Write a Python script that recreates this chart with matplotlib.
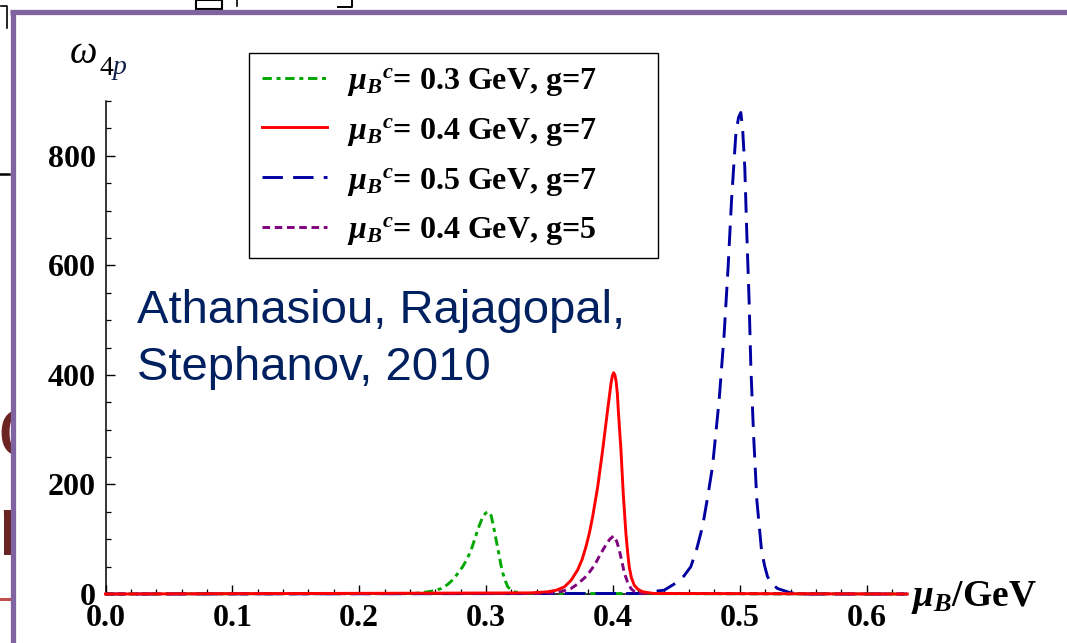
import matplotlib
matplotlib.use("Agg")
import matplotlib.pyplot as plt
from matplotlib.lines import Line2D
from matplotlib.patches import Rectangle
from matplotlib.transforms import Bbox, TransformedBbox
from matplotlib.ticker import MultipleLocator, FormatStrFormatter

# ---------------- data ----------------
green_x = [0.0, 0.2436, 0.254, 0.259, 0.2646, 0.2695, 0.2738, 0.2775, 0.2816,
           0.285, 0.2882, 0.2934, 0.2955, 0.2974, 0.2998, 0.3021, 0.3040, 0.3053,
           0.3066, 0.3079, 0.3105, 0.3118, 0.3132, 0.3150, 0.3171, 0.3195, 0.3223,
           0.330, 0.632]
green_y = [0, 1, 4, 6, 10, 17, 26, 37, 50, 64, 80, 117, 130, 141, 148, 150, 143,
           129, 115, 99, 68, 52, 38, 25, 13, 8, 4, 1, 0]

red_x = [0.0, 0.335, 0.3486, 0.3555, 0.3617, 0.367, 0.3722, 0.3757, 0.3787,
         0.3815, 0.384, 0.388, 0.3919, 0.3958, 0.3985, 0.3995, 0.4005, 0.4015,
         0.4025, 0.4035, 0.4042, 0.4063, 0.4081, 0.4102, 0.4115, 0.4128, 0.4145,
         0.4168, 0.4195, 0.4234, 0.432, 0.632]
red_y = [0, 2, 4, 7, 13, 25, 44, 63, 86, 112, 141, 196, 263, 336, 385, 398, 404,
         400, 388, 365, 336, 263, 184, 111, 78, 50, 30, 16, 9, 4, 1, 0]

blue_x = [0.0, 0.42, 0.43, 0.4404, 0.451, 0.456, 0.4614, 0.466, 0.4706, 0.4745,
          0.4785, 0.4837, 0.4877, 0.4908, 0.4935, 0.4969, 0.4990, 0.5008, 0.5022,
          0.5039, 0.5055, 0.5073, 0.5087, 0.5108, 0.5134, 0.5171, 0.5195, 0.5218,
          0.525, 0.5297, 0.5402, 0.55, 0.632]
blue_y = [0, 1, 4, 7, 22, 33, 50, 82, 123, 175, 233, 354, 476, 598, 720, 841,
          870, 879, 850, 780, 659, 537, 415, 293, 172, 80, 52, 32, 19, 10, 2, 0, 0]

purple_x = [0.0, 0.345, 0.3564, 0.3615, 0.3669, 0.372, 0.3774, 0.3815, 0.3856,
            0.3895, 0.3935, 0.3975, 0.4005, 0.4030, 0.405, 0.407, 0.409, 0.4115,
            0.4142, 0.417, 0.4195, 0.632]
purple_y = [0, 1, 3, 6, 10, 18, 29, 40, 53, 70, 86, 100, 106, 96, 80, 60, 38,
            22, 10, 4, 1, 0]

labels = [r"$\mu_B{}^c$= 0.3 GeV, g=7",
          r"$\mu_B{}^c$= 0.4 GeV, g=7",
          r"$\mu_B{}^c$= 0.5 GeV, g=7",
          r"$\mu_B{}^c$= 0.4 GeV, g=5"]
xticks = [0.0, 0.1, 0.2, 0.3, 0.4, 0.5, 0.6]
yticks = [0, 200, 400, 600, 800]

# ---------------- style ----------------
plt.rcParams["mathtext.fontset"] = "custom"
plt.rcParams["mathtext.it"] = "Liberation Serif:italic:bold"
plt.rcParams["mathtext.rm"] = "Liberation Serif:bold"
plt.rcParams["mathtext.bf"] = "Liberation Serif:bold"
plt.rcParams["font.family"] = ["Liberation Serif", "DejaVu Serif"]

W, H = 1067, 643
fig = plt.figure(figsize=(W / 100, H / 100), dpi=100)
fig.patch.set_facecolor("white")

def fx(px):
    return px / W

def fy(py):
    return 1 - py / H

# slide fragments outside the panel (clipped at the frame)
clip = TransformedBbox(Bbox([[0, 0], [fx(11), 1]]), fig.transFigure)
for txt, base in (("c", 455), ("n", 555)):
    t = fig.text(fx(-3), fy(base), txt, fontsize=62, color="#6B2323",
                 family="Liberation Sans", ha="left", va="baseline", zorder=-5)
    t.set_clip_box(clip)
    t.set_clip_on(True)
fig.add_artist(Line2D([fx(0), fx(10)], [fy(599), fy(599)], color="#C0504D",
                      lw=2.2, zorder=-5))
fig.add_artist(Line2D([fx(0), fx(9)], [fy(174), fy(174)], color="black",
                      lw=1.8, zorder=-5))
fig.add_artist(Rectangle((fx(196), fy(9)), fx(26), 9 / H, facecolor="none",
                         edgecolor="black", lw=1.5, zorder=-5))
fig.add_artist(Line2D([fx(237), fx(237)], [fy(0), fy(6)], color="black",
                      lw=1.2, zorder=-5))
fig.add_artist(Line2D([fx(338), fx(352), fx(352)], [fy(7), fy(7), fy(0)],
                      color="black", lw=1.4, zorder=-5))
fig.add_artist(Line2D([fx(1), fx(7), fx(7)], [fy(6), fy(6), fy(28)],
                      color="black", lw=1.2, zorder=-5))

# white panel and purple frame
fig.add_artist(Rectangle((fx(12), 0), 1 - fx(12), fy(12), facecolor="white",
                         edgecolor="none", zorder=-4))
fig.add_artist(Line2D([fx(10), fx(1067)], [fy(11.5), fy(11.5)],
                      color="#8064A2", lw=3.8, zorder=-3,
                      solid_capstyle="butt"))
fig.add_artist(Line2D([fx(12.5), fx(12.5)], [fy(9.5), fy(643)],
                      color="#8064A2", lw=3.8, zorder=-3,
                      solid_capstyle="butt"))

# ---------------- axes ----------------
left_px, right_px, top_px, bot_px = 105.5, 906, 101, 594
ax = fig.add_axes([fx(left_px), 1 - bot_px / H, (right_px - left_px) / W,
                   (bot_px - top_px) / H])
ax.set_facecolor("none")
ax.set_xlim(0, 0.631)
ax.set_ylim(0, 900)

lw = 2.1
ax.plot(green_x, green_y, color="#00A800", lw=lw, dashes=(3.2, 1.6, 1.4, 1.6),
        clip_on=False, label=labels[0], zorder=3)
ax.plot(red_x, red_y, color="#FF0000", lw=lw, clip_on=False, label=labels[1],
        zorder=4)
ax.plot(blue_x, blue_y, color="#0000A0", lw=lw, dashes=(7, 3.5),
        clip_on=False, label=labels[2], zorder=3)
ax.plot(purple_x, purple_y, color="#800080", lw=lw, dashes=(2.6, 1.6),
        clip_on=False, label=labels[3], zorder=3)

for s in ["top", "right"]:
    ax.spines[s].set_visible(False)
for s in ["left", "bottom"]:
    ax.spines[s].set_linewidth(1.1)

ax.set_xticks(xticks)
ax.set_yticks(yticks)
ax.xaxis.set_major_formatter(FormatStrFormatter("%.1f"))
ax.xaxis.set_minor_locator(MultipleLocator(0.02))
ax.yaxis.set_minor_locator(MultipleLocator(50))
ax.tick_params(which="major", direction="in", length=6.5, width=1.0,
               labelsize=23, pad=7)
ax.tick_params(which="minor", direction="in", length=3.8, width=0.9)
for t in ax.get_xticklabels() + ax.get_yticklabels():
    t.set_fontweight("bold")
    t.set_family("Liberation Serif")

# legend entries (frame drawn separately to match the box size)
leg = ax.legend(loc="upper left", bbox_to_anchor=(fx(249), fy(53)),
                bbox_transform=fig.transFigure, borderaxespad=0,
                prop={"family": "Liberation Serif", "weight": "bold",
                      "size": 23},
                frameon=False, handlelength=2.05, handletextpad=0.62,
                labelspacing=0.56, borderpad=0.4)
fig.add_artist(Rectangle((fx(249), fy(258)), (658 - 249) / W, (258 - 53) / H,
                         facecolor="none", edgecolor="black", lw=1.0,
                         zorder=5))

# axis labels
fig.text(fx(911), fy(598), r"$\mu_B$/GeV", fontsize=27, fontweight="bold",
         family="Liberation Serif", ha="left", va="center")
fig.text(fx(70), fy(63), "ω", fontsize=28, style="italic",
         family="Liberation Serif", ha="left", va="baseline")
fig.text(fx(100), fy(75), "4", fontsize=20, family="Liberation Serif",
         ha="left", va="baseline")
fig.text(fx(113), fy(74), "p", fontsize=20, style="italic",
         family="Liberation Serif", color="#10204A", ha="left",
         va="baseline")

# citation
fig.text(fx(137), fy(323), "Athanasiou, Rajagopal,", fontsize=34,
         color="#002060", family="Liberation Sans", ha="left",
         va="baseline")
fig.text(fx(137), fy(380), "Stephanov, 2010", fontsize=34,
         color="#002060", family="Liberation Sans", ha="left",
         va="baseline")

fig.savefig("out.png", dpi=100)
